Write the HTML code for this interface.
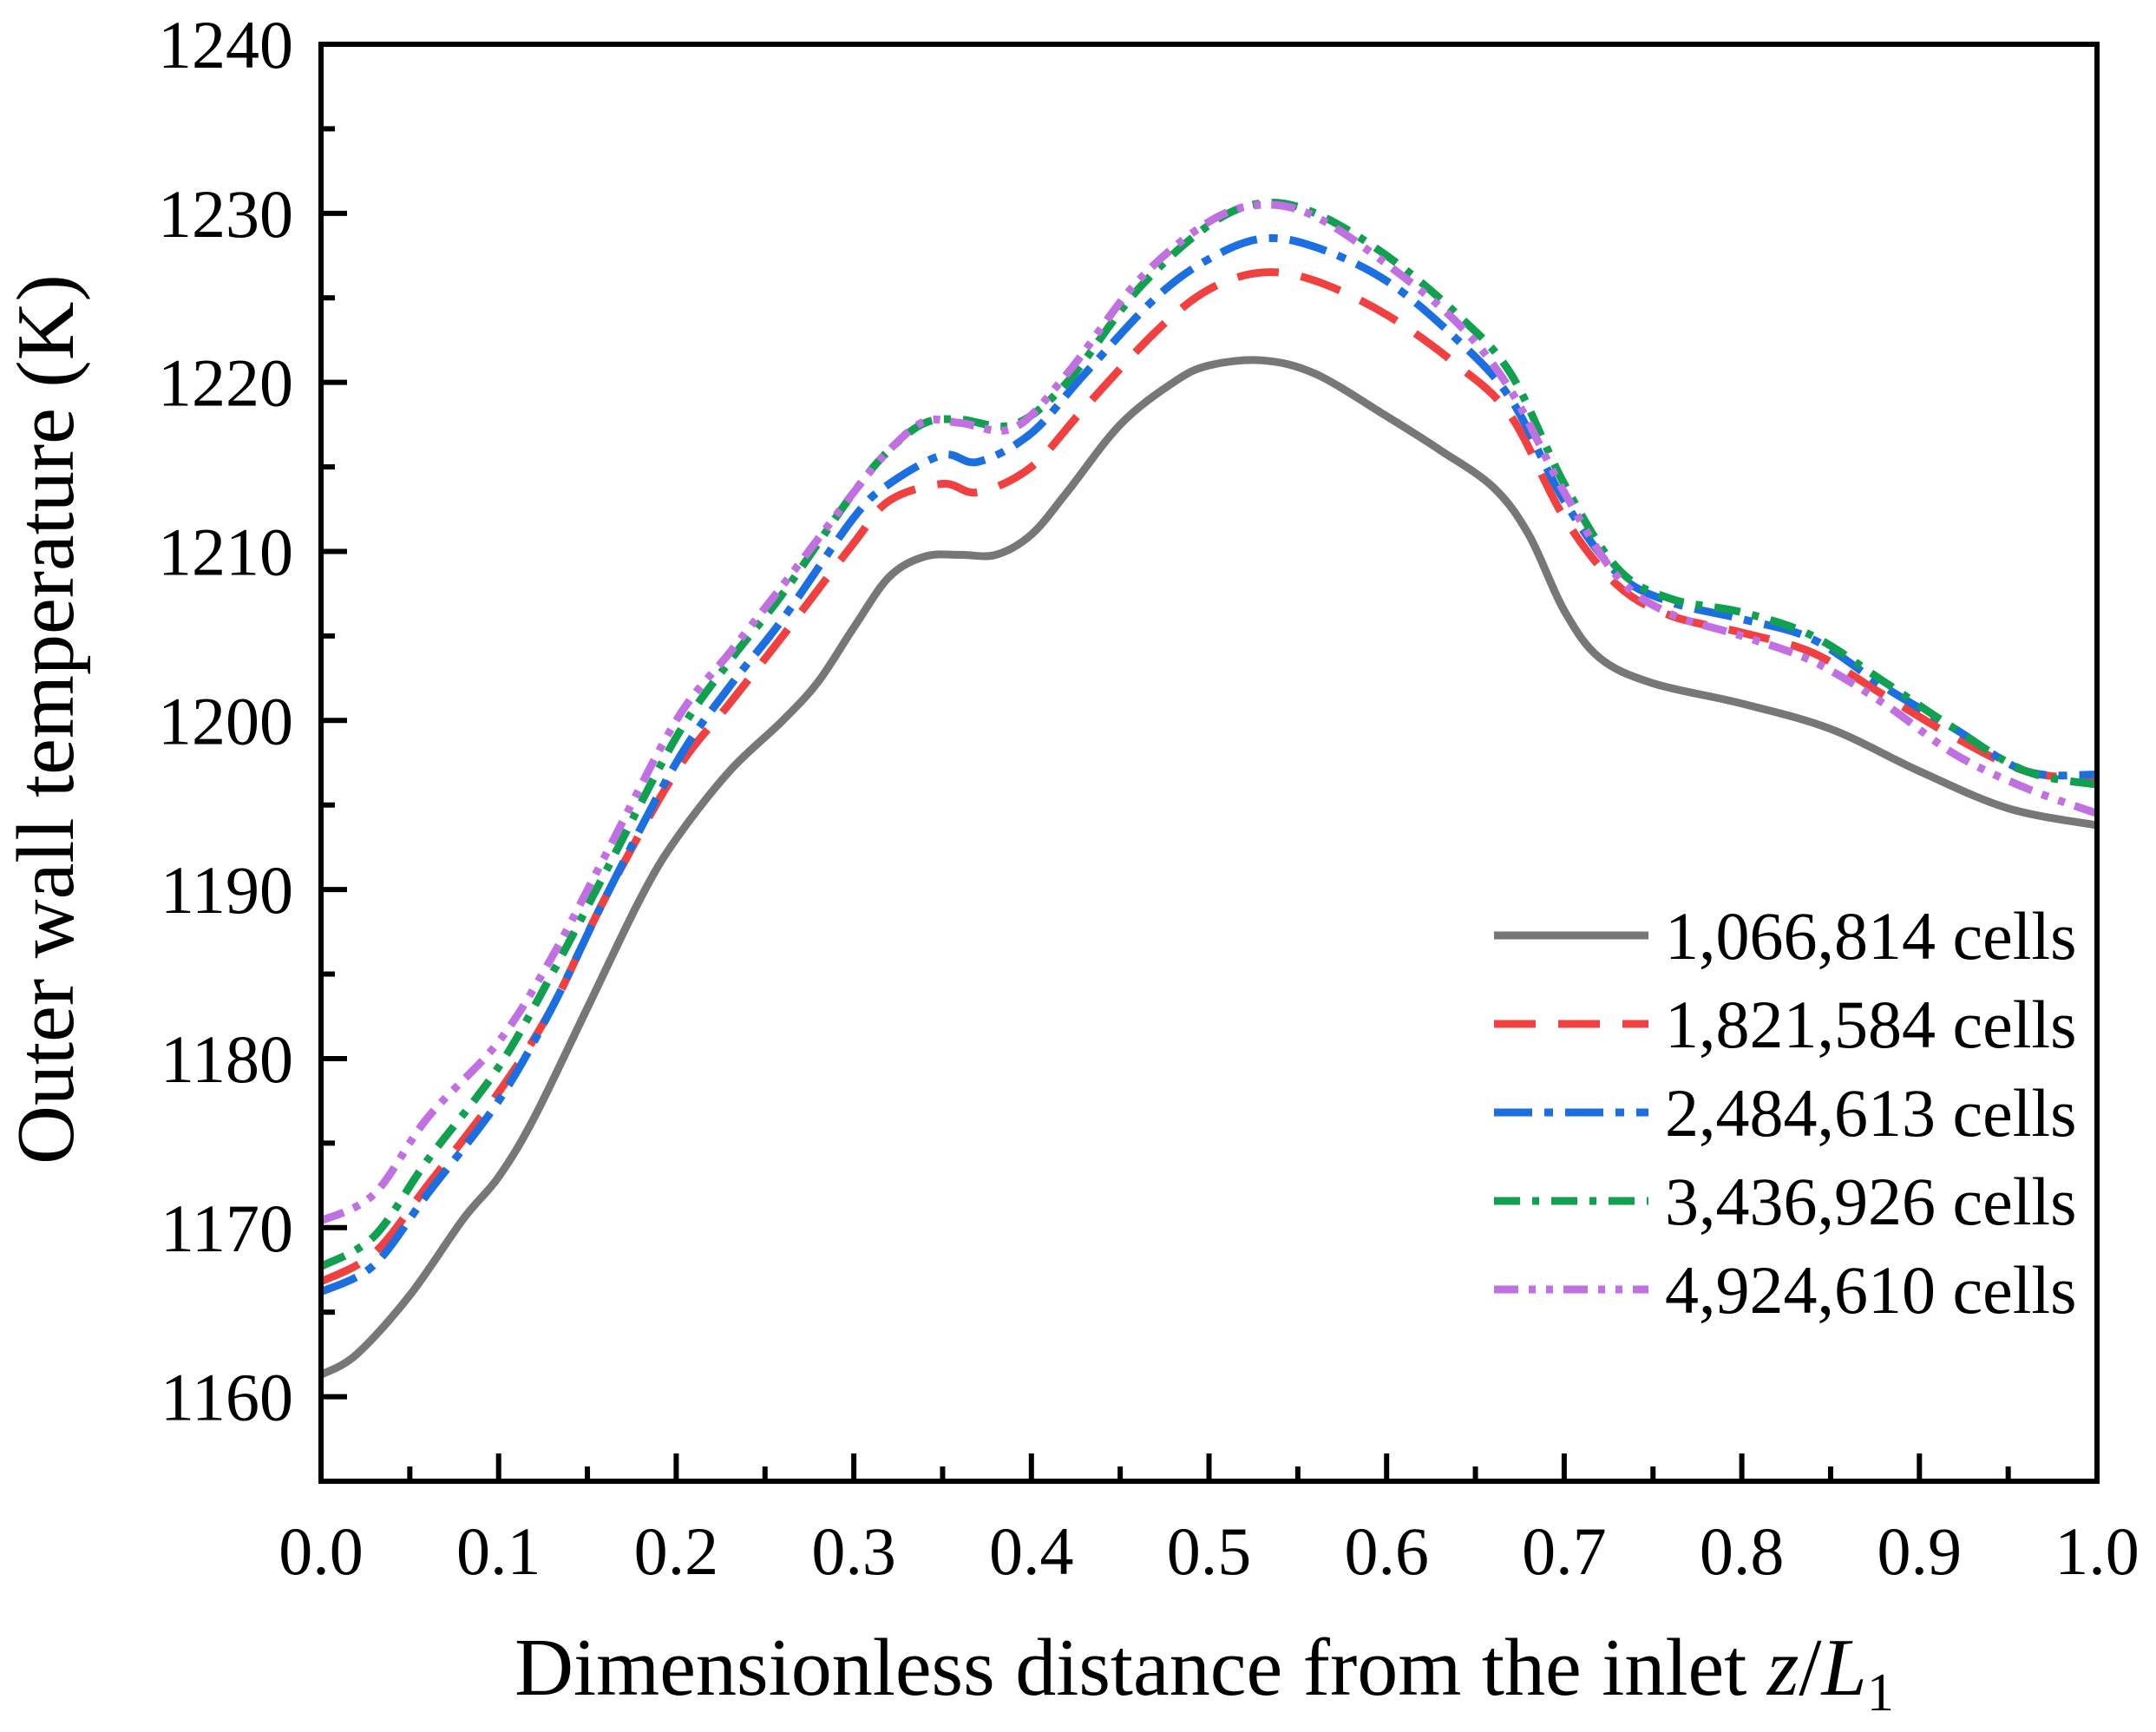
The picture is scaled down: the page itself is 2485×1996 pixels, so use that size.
<!DOCTYPE html>
<html><head><meta charset="utf-8"><style>
body{margin:0;background:#fff;}
text{font-family:"Liberation Serif",serif;fill:#000;}
</style></head><body>
<svg id="chart" width="2485" height="1991" viewBox="0 0 2485 1991" xmlns="http://www.w3.org/2000/svg">
<g id="grid"></g><g id="series"></g><g id="axes"></g><g id="legend"></g>
</svg>
<script>
const xGray=[0,0.02,0.05,0.08,0.1,0.12,0.15,0.18,0.2,0.23,0.26,0.28,0.3,0.32,0.34,0.36,0.38,0.4,0.42,0.45,0.48,0.5,0.53,0.56,0.6,0.63,0.66,0.68,0.7,0.72,0.75,0.8,0.85,0.9,0.95,1.0];
const yGray=[1161.3,1162.5,1166,1170.5,1173,1176.5,1183,1189.5,1193,1197,1200,1202.3,1205.5,1208.5,1209.7,1209.8,1209.8,1211,1213.5,1217.5,1220,1221,1221.3,1220.5,1218,1216,1213.8,1211,1206.5,1203.7,1202.2,1201,1199.5,1197,1194.8,1193.8];
const xRed=[0,0.03,0.06,0.1,0.13,0.16,0.2,0.23,0.26,0.3,0.32,0.35,0.37,0.4,0.43,0.47,0.5,0.53,0.56,0.6,0.64,0.67,0.7,0.73,0.76,0.8,0.84,0.88,0.92,0.96,1.0];
const yRed=[1166.8,1168.5,1172.5,1178,1183,1189.5,1197,1201,1205,1210.5,1213,1214,1213.5,1215,1218.5,1223,1225.5,1226.5,1226,1224,1221,1218,1212,1208,1206.2,1205.2,1204,1201.5,1199,1197,1196.5];
const xBlue=xRed;
const yBlue=[1166.2,1167.8,1172,1177.5,1183,1189.5,1197.5,1202,1206,1212,1214,1215.7,1215.3,1217,1220.5,1225,1227.3,1228.5,1228,1226,1222.5,1219,1213,1208.7,1207,1206,1204.8,1202,1199.5,1197,1196.8];
const xGreen=[0,0.03,0.06,0.1,0.13,0.16,0.2,0.23,0.26,0.3,0.32,0.34,0.36,0.39,0.42,0.46,0.5,0.53,0.56,0.6,0.64,0.67,0.7,0.73,0.76,0.8,0.84,0.88,0.92,0.96,1.0];
const yGreen=[1167.7,1169.5,1174,1179.5,1185,1191,1199,1203.5,1207.5,1213.5,1216,1217.6,1217.8,1217.5,1220,1225.5,1229.3,1230.6,1230,1227.5,1224,1220.5,1214,1209,1207.2,1206.4,1205,1202.3,1199.5,1197,1196.2];
const xPurple=xGreen;
const yPurple=[1170.4,1172,1176.5,1181,1186,1192,1200,1204,1208,1213.5,1216,1217.7,1217.6,1217.3,1220.5,1226,1229.5,1230.5,1229.8,1227,1223.5,1219.5,1213.5,1208.5,1206.3,1205,1203.5,1201,1198,1196,1194.5];
const seriesNames=["1,066,814 cells","1,821,584 cells","2,484,613 cells","3,436,926 cells","4,924,610 cells"];
const xTicks=[0,0.1,0.2,0.3,0.4,0.5,0.6,0.7,0.8,0.9,1.0];
const yTicks=[1160,1170,1180,1190,1200,1210,1220,1230,1240];

const L=370,R=2417,T=51,B=1707,X0=0,X1=1,Y0=1155,Y1=1240;
const sx=v=>L+(v-X0)/(X1-X0)*(R-L);
const sy=v=>B-(v-Y0)/(Y1-Y0)*(B-T);
const NS="http://www.w3.org/2000/svg";
function mk(tag,attrs,parent){const e=document.createElementNS(NS,tag);for(const k in attrs)e.setAttribute(k,attrs[k]);parent.appendChild(e);return e;}
function pathD(xs,ys){
  const p=xs.map((x,i)=>[sx(x),sy(ys[i])]);
  let d="M"+p[0][0]+","+p[0][1];
  for(let i=0;i<p.length-1;i++){
    const p0=p[i-1]||p[i],p1=p[i],p2=p[i+1],p3=p[i+2]||p[i+1];
    const c1=[p1[0]+(p2[0]-p0[0])/6,p1[1]+(p2[1]-p0[1])/6];
    const c2=[p2[0]-(p3[0]-p1[0])/6,p2[1]-(p3[1]-p1[1])/6];
    d+=` C${c1[0]},${c1[1]} ${c2[0]},${c2[1]} ${p2[0]},${p2[1]}`;
  }
  return d;
}
const styles=[
 {c:"#777777",dash:""},
 {c:"#f04040",dash:"48 26"},
 {c:"#1c6fe0",dash:"44 14 10 14"},
 {c:"#10a050",dash:"30 14 8 14"},
 {c:"#c070e0",dash:"28 12 8 12 8 12"}];
const data=[[xGray,yGray],[xRed,yRed],[xBlue,yBlue],[xGreen,yGreen],[xPurple,yPurple]];
const sg=document.getElementById("series");
const keys=["gray","red","blue","green","purple"];
data.forEach((s,i)=>{
  const p=mk("path",{d:pathD(s[0],s[1]),fill:"none",stroke:styles[i].c,"stroke-width":9,"stroke-dasharray":styles[i].dash},sg);
  
  
});
const ax=document.getElementById("axes");
const frame=mk("rect",{x:L,y:T,width:R-L,height:B-T,fill:"none",stroke:"#000","stroke-width":6},ax);


xTicks.forEach(v=>{
  const x=sx(v);
  mk("line",{x1:x,x2:x,y1:B,y2:B-32,stroke:"#000","stroke-width":6},ax);
  const t=mk("text",{x:x,y:1814,"font-size":78,"text-anchor":"middle"},ax);
  t.textContent=v.toFixed(1);
  
  
});
for(let v=0.05;v<1;v+=0.1){const x=sx(v);mk("line",{x1:x,x2:x,y1:B,y2:B-17,stroke:"#000","stroke-width":6},ax);}
yTicks.forEach(v=>{
  const y=sy(v);
  mk("line",{x1:L,x2:L+30,y1:y,y2:y,stroke:"#000","stroke-width":6},ax);
  const t=mk("text",{x:338,y:y+27,"font-size":78,"text-anchor":"end"},ax);
  t.textContent=v;
  
  
});
for(let v=1155;v<1240;v+=10){const y=sy(v);mk("line",{x1:L,x2:L+16,y1:y,y2:y,stroke:"#000","stroke-width":6},ax);}
const xt=mk("text",{x:1388,y:1953,"font-size":94,"text-anchor":"middle"},ax);
xt.innerHTML='Dimensionless distance from the inlet <tspan font-style="italic">z</tspan>/<tspan font-style="italic">L</tspan><tspan font-size="62" dy="18">1</tspan>';


const yt=mk("text",{x:0,y:0,"font-size":94,"text-anchor":"middle",transform:"translate(84,829) rotate(-90)"},ax);
yt.textContent="Outer wall temperature (K)";


const lg=document.getElementById("legend");
seriesNames.forEach((n,i)=>{
  const y=1078+i*102;
  const g=mk("g",{},lg);
  
  
  mk("line",{x1:1722,x2:1900,y1:y,y2:y,stroke:styles[i].c,"stroke-width":9,"stroke-dasharray":styles[i].dash},g);
  const t=mk("text",{x:1919,y:y+27,"font-size":78},g);
  t.textContent=n;
});
</script>
</body></html>
